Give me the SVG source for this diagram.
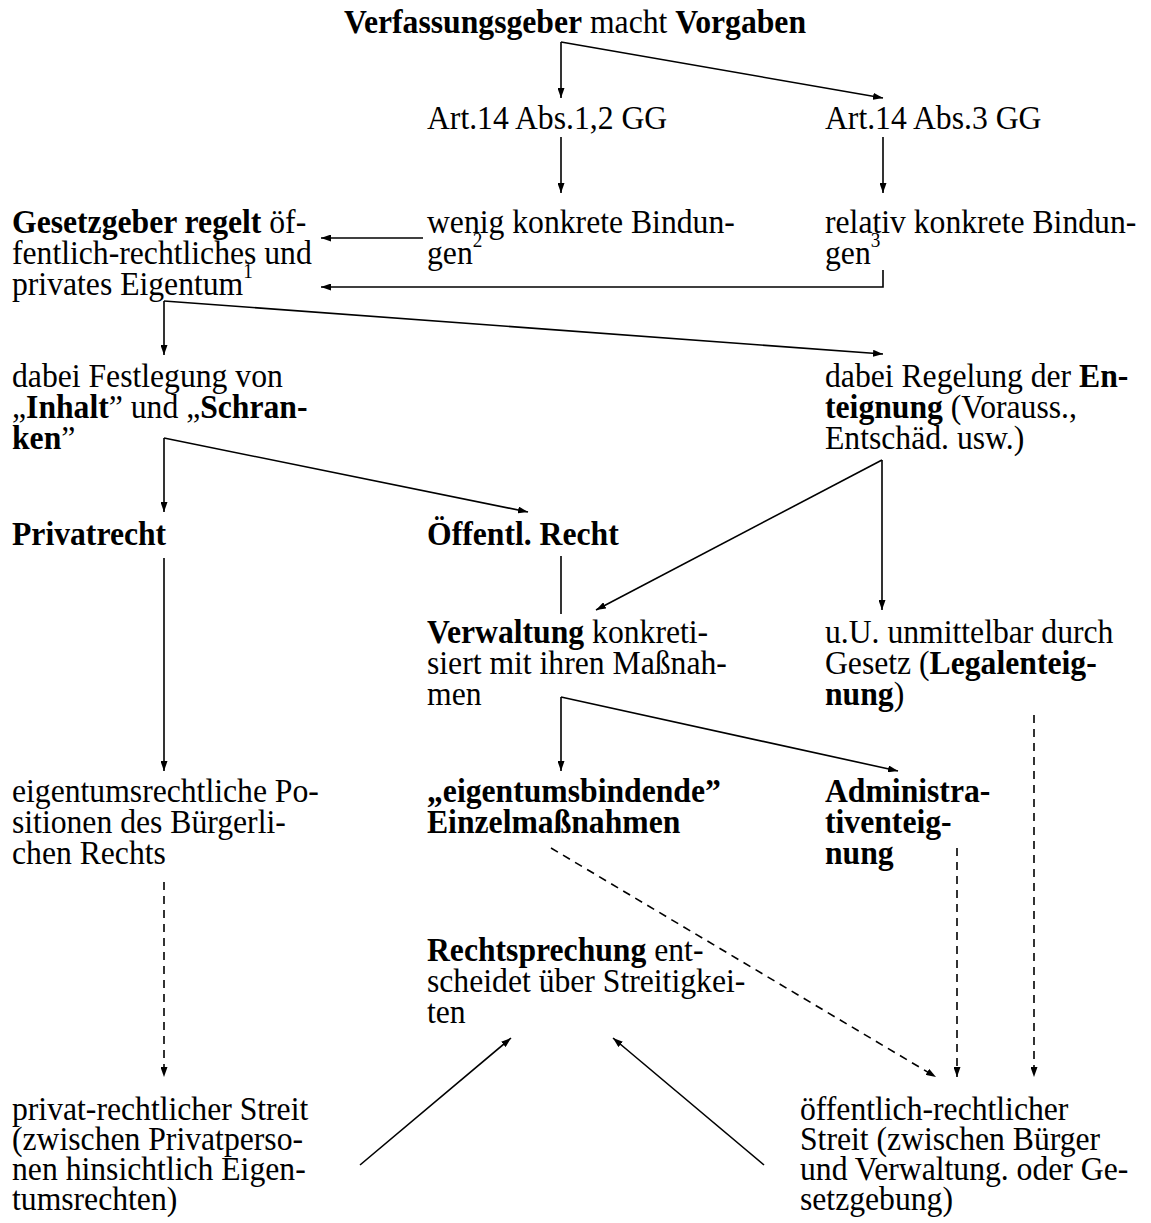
<svg xmlns="http://www.w3.org/2000/svg" width="1151" height="1223" viewBox="0 0 1151 1223">
  <style>
    text { font-family: "Liberation Serif", "Times New Roman", serif; font-size: 33px; fill: #000; }
    .b { font-weight: bold; }
    .sup { font-size: 20px; }
    .ln { fill: none; stroke: #000; stroke-width: 1.6; }
    .dash { stroke-dasharray: 8 6; }
  </style>
  <defs>
    <marker id="ah" markerUnits="userSpaceOnUse" markerWidth="10" markerHeight="7" refX="10" refY="3.5" orient="auto">
      <path d="M0,0 L10,3.5 L0,7 z" fill="#000"/>
    </marker>
  </defs>
  <rect width="1151" height="1223" fill="#fff"/>

  <!-- nodes: text is set slightly condensed (scale .96 horizontally) -->
  <g id="verfassungsgeber" transform="translate(344 33) scale(.96 1)">
    <text><tspan class="b">Verfassungsgeber</tspan> macht <tspan class="b">Vorgaben</tspan></text>
  </g>
  <g id="art14-abs12" transform="translate(427 129) scale(.96 1)">
    <text>Art.14 Abs.1,2 GG</text>
  </g>
  <g id="art14-abs3" transform="translate(825 129) scale(.96 1)">
    <text>Art.14 Abs.3 GG</text>
  </g>
  <g id="gesetzgeber" transform="translate(12 233) scale(.96 1)">
    <text><tspan class="b">Gesetzgeber regelt</tspan> öf-</text>
    <text y="31">fentlich-rechtliches und</text>
    <text y="62">privates Eigentum<tspan class="sup" dy="-17">1</tspan></text>
  </g>
  <g id="wenig-konkret" transform="translate(427 233) scale(.96 1)">
    <text>wenig konkrete Bindun-</text>
    <text y="31">gen<tspan class="sup" dy="-17">2</tspan></text>
  </g>
  <g id="relativ-konkret" transform="translate(825 233) scale(.96 1)">
    <text>relativ konkrete Bindun-</text>
    <text y="31">gen<tspan class="sup" dy="-17">3</tspan></text>
  </g>
  <g id="inhalt-schranken" transform="translate(12 387) scale(.96 1)">
    <text>dabei Festlegung von</text>
    <text y="31">„<tspan class="b">Inhalt</tspan>” und „<tspan class="b">Schran-</tspan></text>
    <text y="62"><tspan class="b">ken</tspan>”</text>
  </g>
  <g id="enteignung" transform="translate(825 387) scale(.96 1)">
    <text>dabei Regelung der <tspan class="b">En-</tspan></text>
    <text y="31"><tspan class="b">teignung</tspan> (Vorauss.,</text>
    <text y="62">Entschäd. usw.)</text>
  </g>
  <g id="privatrecht" transform="translate(12 545) scale(.96 1)">
    <text class="b">Privatrecht</text>
  </g>
  <g id="oeffentl-recht" transform="translate(427 545) scale(.96 1)">
    <text class="b">Öffentl. Recht</text>
  </g>
  <g id="verwaltung" transform="translate(427 643) scale(.96 1)">
    <text><tspan class="b">Verwaltung</tspan> konkreti-</text>
    <text y="31">siert mit ihren Maßnah-</text>
    <text y="62">men</text>
  </g>
  <g id="legalenteignung" transform="translate(825 643) scale(.96 1)">
    <text>u.U. unmittelbar durch</text>
    <text y="31">Gesetz (<tspan class="b">Legalenteig-</tspan></text>
    <text y="62"><tspan class="b">nung</tspan>)</text>
  </g>
  <g id="positionen" transform="translate(12 802) scale(.96 1)">
    <text>eigentumsrechtliche Po-</text>
    <text y="31">sitionen des Bürgerli-</text>
    <text y="62">chen Rechts</text>
  </g>
  <g id="einzelmassnahmen" transform="translate(427 802) scale(.96 1)">
    <text class="b">„eigentumsbindende”</text>
    <text class="b" y="31">Einzelmaßnahmen</text>
  </g>
  <g id="administrativenteignung" transform="translate(825 802) scale(.96 1)">
    <text class="b">Administra-</text>
    <text class="b" y="31">tiventeig-</text>
    <text class="b" y="62">nung</text>
  </g>
  <g id="rechtsprechung" transform="translate(427 961) scale(.96 1)">
    <text><tspan class="b">Rechtsprechung</tspan> ent-</text>
    <text y="31">scheidet über Streitigkei-</text>
    <text y="62">ten</text>
  </g>
  <g id="privat-streit" transform="translate(12 1120) scale(.96 1)">
    <text>privat-rechtlicher Streit</text>
    <text y="30">(zwischen Privatperso-</text>
    <text y="60">nen hinsichtlich Eigen-</text>
    <text y="90">tumsrechten)</text>
  </g>
  <g id="oeffentlich-streit" transform="translate(800 1120) scale(.96 1)">
    <text>öffentlich-rechtlicher</text>
    <text y="30">Streit (zwischen Bürger</text>
    <text y="60">und Verwaltung. oder Ge-</text>
    <text y="90">setzgebung)</text>
  </g>

  <!-- connectors -->
  <g id="connectors" class="ln">
    <path d="M561,42 V98" marker-end="url(#ah)"/>
    <path d="M561,42 L883,98" marker-end="url(#ah)"/>
    <path d="M561,137 V193" marker-end="url(#ah)"/>
    <path d="M883,137 V193" marker-end="url(#ah)"/>
    <path d="M423,238 H321" marker-end="url(#ah)"/>
    <path d="M883,270 V287 H321" marker-end="url(#ah)"/>
    <path d="M164,301 V355" marker-end="url(#ah)"/>
    <path d="M164,301 L883,354" marker-end="url(#ah)"/>
    <path d="M164,438 V512" marker-end="url(#ah)"/>
    <path d="M164,438 L528,512" marker-end="url(#ah)"/>
    <path d="M882,460 L596,610" marker-end="url(#ah)"/>
    <path d="M882,460 V610" marker-end="url(#ah)"/>
    <path d="M561,556 V614"/>
    <path d="M164,558 V771" marker-end="url(#ah)"/>
    <path d="M561,697 V771" marker-end="url(#ah)"/>
    <path d="M561,697 L898,771" marker-end="url(#ah)"/>
    <path class="dash" d="M164,882 V1077" marker-end="url(#ah)"/>
    <path class="dash" d="M551,848 L936,1077" marker-end="url(#ah)"/>
    <path class="dash" d="M957,848 V1077" marker-end="url(#ah)"/>
    <path class="dash" d="M1034,715 V1077" marker-end="url(#ah)"/>
    <path d="M360,1165 L511,1038" marker-end="url(#ah)"/>
    <path d="M764,1165 L613,1038" marker-end="url(#ah)"/>
  </g>
</svg>
